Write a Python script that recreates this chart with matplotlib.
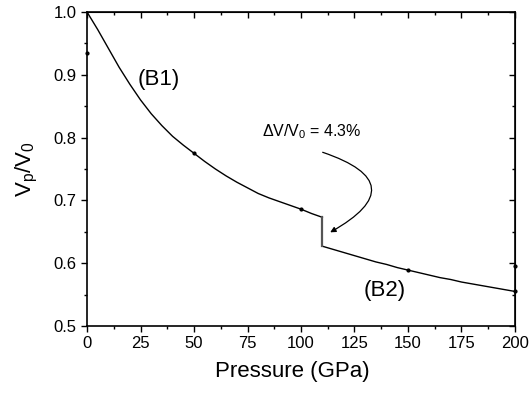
import numpy as np
import matplotlib
matplotlib.use("Agg")
import matplotlib.pyplot as plt
from matplotlib.ticker import MultipleLocator

plt.rcParams['font.family'] = ['Liberation Sans', 'DejaVu Sans']
plt.rcParams['mathtext.fontset'] = 'custom'
plt.rcParams['mathtext.rm'] = 'Liberation Sans'
plt.rcParams['mathtext.it'] = 'Liberation Sans'

# phase B1 (low pressure)
p_b1 = [0, 5, 10, 15, 20, 25, 30, 35, 40, 45, 50, 55, 60, 65, 70, 75, 80, 85, 90, 95, 100, 105, 110]
v_b1 = [1.0, 0.972, 0.942, 0.912, 0.885, 0.860, 0.838, 0.819, 0.802, 0.788, 0.775, 0.762,
        0.750, 0.739, 0.729, 0.720, 0.711, 0.704, 0.698, 0.692, 0.686, 0.679, 0.673]
# phase B2 (high pressure)
p_b2 = [110, 115, 120, 125, 130, 135, 140, 145, 150, 155, 160, 165, 170, 175, 180, 185, 190, 195, 200]
v_b2 = [0.627, 0.622, 0.617, 0.612, 0.607, 0.602, 0.598, 0.593, 0.589, 0.585, 0.581, 0.577,
        0.574, 0.570, 0.567, 0.564, 0.561, 0.558, 0.555]
# calculated points
p_pts = [0, 50, 100, 150, 200, 200]
v_pts = [0.935, 0.775, 0.686, 0.589, 0.555, 0.595]
p_trans = 110

fig = plt.figure(figsize=(5.29, 3.96), dpi=100)
ax = fig.add_axes([0.1645, 0.1768, 0.809, 0.7929])

ax.plot(p_b1, v_b1, color='black', lw=1.0)
ax.plot(p_b2, v_b2, color='black', lw=1.0)
ax.plot([p_trans, p_trans], [v_b1[-1], v_b2[0]], color='#555555', lw=1.6)
ax.plot(p_pts, v_pts, 'o', color='black', ms=2, clip_on=False)

ax.set_xlim(0, 200)
ax.set_ylim(0.5, 1.0)
ax.xaxis.set_major_locator(MultipleLocator(25))
ax.xaxis.set_minor_locator(MultipleLocator(12.5))
ax.yaxis.set_major_locator(MultipleLocator(0.1))
ax.yaxis.set_minor_locator(MultipleLocator(0.05))
ax.tick_params(which='both', direction='out', labelsize=12, width=1)
ax.tick_params(which='major', length=4)
ax.tick_params(which='minor', length=2.5)
for s in ax.spines.values():
    s.set_linewidth(1.2)

# mirrored ticks on top/right, pointing inward
top = ax.secondary_xaxis('top')
top.xaxis.set_major_locator(MultipleLocator(25))
top.xaxis.set_minor_locator(MultipleLocator(12.5))
top.tick_params(which='both', direction='in', labeltop=False, width=1)
top.tick_params(which='major', length=4)
top.tick_params(which='minor', length=2.5)
right = ax.secondary_yaxis('right')
right.yaxis.set_major_locator(MultipleLocator(0.1))
right.yaxis.set_minor_locator(MultipleLocator(0.05))
right.tick_params(which='both', direction='in', labelright=False, width=1)
right.tick_params(which='major', length=4)
right.tick_params(which='minor', length=2.5)

ax.set_xlabel('Pressure (GPa)', fontsize=16, labelpad=8)
ax.xaxis.set_label_coords(0.48, -0.11)
ax.set_ylabel(r'V$_\mathrm{p}$/V$_\mathrm{0}$', fontsize=16, labelpad=10)

ax.text(33.7, 0.892, '(B1)', fontsize=16, ha='center', va='center')
ax.text(139, 0.557, '(B2)', fontsize=16, ha='center', va='center')
ax.text(81.6, 0.809, r'$\Delta$V/V$_\mathrm{0}$ = 4.3%', fontsize=11.5, ha='left', va='center')

ax.annotate('', xy=(112.5, 0.647), xytext=(108.9, 0.778),
            arrowprops=dict(arrowstyle='-|>', color='black', lw=0.9,
                            mutation_scale=8,
                            connectionstyle='arc3,rad=-1.15'))

fig.savefig('out.png', dpi=100)
